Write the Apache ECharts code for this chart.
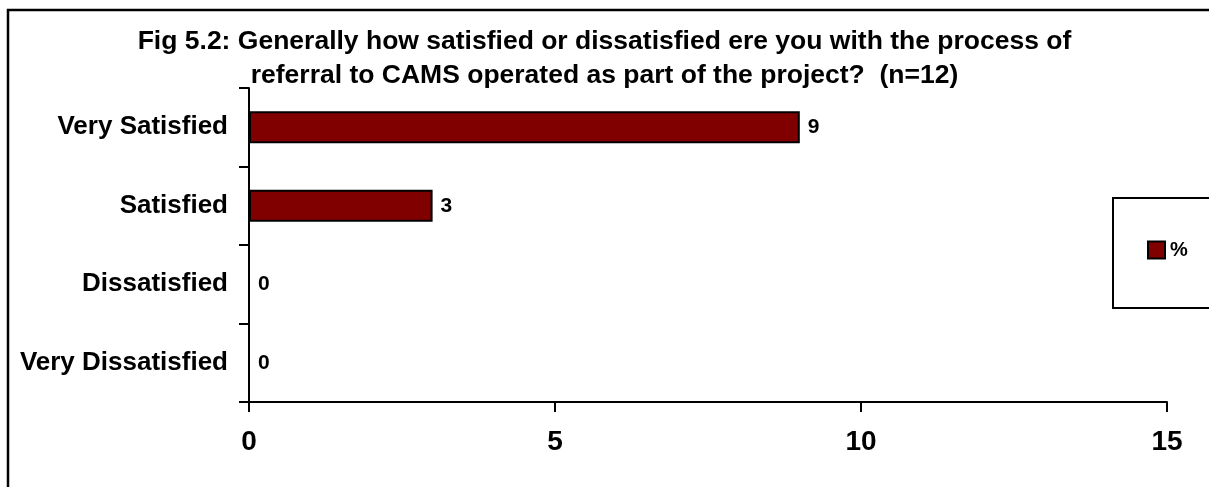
<!DOCTYPE html>
<html>
<head>
<meta charset="utf-8">
<title>Fig 5.2</title>
<script src="https://cdn.jsdelivr.net/npm/echarts@6/dist/echarts.min.js"></script>
<style>
  html, body { margin: 0; padding: 0; background: #fff; }
  #myChart { width: 1209px; height: 487px; }
</style>
</head>
<body>
<div id="myChart"></div>
<script>
// 数据
var categories = ['Very Satisfied', 'Satisfied', 'Dissatisfied', 'Very Dissatisfied']
var counts = [9, 3, 0, 0]
var seriesName = '%'
var titleText = 'Fig 5.2: Generally how satisfied or dissatisfied ere you with the process of\nreferral to CAMS operated as part of the project?  (n=12)'

var font = '"Liberation Sans", Arial, sans-serif'

var myChart = echarts.init(document.getElementById('myChart'))
myChart.setOption({
  backgroundColor: '#fff',
  animation: false,
  title: {
    text: titleText,
    left: 'center',
    top: 20,
    textStyle: {
      fontFamily: font,
      fontSize: 26.5,
      fontWeight: 'bold',
      lineHeight: 34,
      color: '#000'
    }
  },
  // 外框
  graphic: [{
    type: 'rect',
    silent: true,
    z: -1,
    shape: { x: 8, y: 10, width: 1300, height: 600 },
    style: { fill: 'none', stroke: '#000', lineWidth: 2.5 }
  }],
  legend: {
    data: [seriesName],
    icon: 'rect',
    left: 1113,
    top: 198,
    orient: 'vertical',
    padding: [42, 60, 48, 34],
    borderColor: '#000',
    borderWidth: 2,
    itemWidth: 17,
    itemHeight: 17,
    itemGap: 0,
    itemTextGap: 3,
    textStyle: { fontFamily: font, fontSize: 20, fontWeight: 'bold', color: '#000' }
  },
  grid: {
    left: 249,
    right: 42,
    top: 88,
    bottom: 85,
    containLabel: false
  },
  xAxis: {
    type: 'value',
    min: 0,
    max: 15,
    interval: 5,
    axisLine: { show: true, lineStyle: { color: '#000', width: 2 } },
    axisTick: { show: true, length: 10, lineStyle: { color: '#000', width: 2 } },
    splitLine: { show: false },
    axisLabel: {
      margin: 26,
      fontFamily: font,
      fontSize: 28,
      fontWeight: 'bold',
      color: '#000'
    }
  },
  yAxis: {
    type: 'category',
    inverse: true,
    data: categories,
    axisLine: { show: true, lineStyle: { color: '#000', width: 2 } },
    axisTick: { show: true, length: 10, lineStyle: { color: '#000', width: 2 } },
    axisLabel: {
      margin: 21,
      fontFamily: font,
      fontSize: 26,
      fontWeight: 'bold',
      color: '#000'
    }
  },
  series: [{
    name: seriesName,
    type: 'bar',
    data: counts,
    barWidth: 32,
    itemStyle: { color: '#800000', borderColor: '#000', borderWidth: 2 },
    label: {
      show: true,
      position: 'right',
      distance: 8,
      fontFamily: font,
      fontSize: 21,
      fontWeight: 'bold',
      color: '#000'
    }
  }]
})
</script>
</body>
</html>
